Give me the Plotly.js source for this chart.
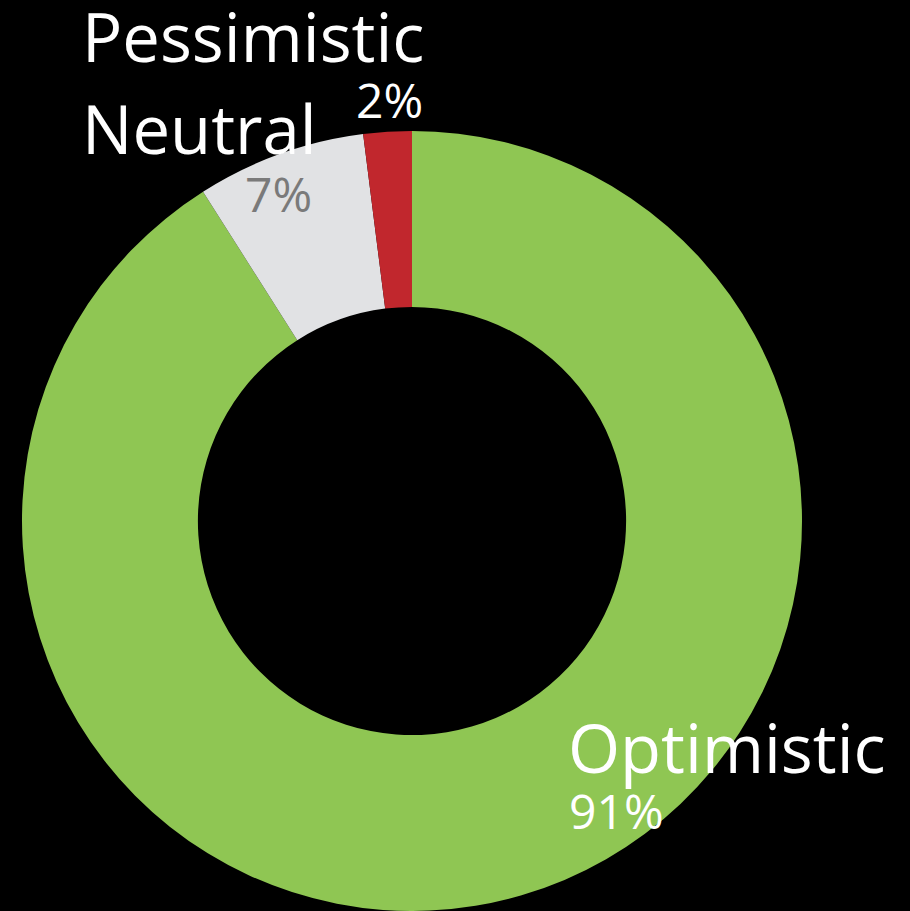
<!DOCTYPE html>
<html>
<head>
<meta charset="utf-8">
<script src="https://cdn.plot.ly/plotly-3.0.1.min.js"></script>
<style>html,body{margin:0;padding:0;background:#000;}#chart{width:910px;height:911px;}</style>
</head>
<body>
<div id="chart"></div>
<script>
// Data
const categories = ["Optimistic", "Neutral", "Pessimistic"];
const values = [91, 7, 2];
const percentLabels = ["91%", "7%", "2%"];
const sliceColors = ["#8FC653", "#E1E2E4", "#C1272D"];

// Label placement (pixel positions of label text, left edge & vertical centre)
const nameLabelPos = [[566, 747], [80, 128], [80, 36]];
const pctLabelPos = [[567, 810], [243, 194], [354, 99]];
const pctColors = ["#FFFFFF", "#7A7A7A", "#FFFFFF"];

const W = 910, H = 911;
const FONT = "Open Sans, sans-serif";

const annotations = [];
categories.forEach((c, i) => {
  annotations.push({
    text: c, xref: "paper", yref: "paper",
    x: nameLabelPos[i][0] / W, y: 1 - nameLabelPos[i][1] / H,
    xanchor: "left", yanchor: "middle", showarrow: false,
    font: {family: FONT, size: 67, color: "#FFFFFF"}
  });
  annotations.push({
    text: percentLabels[i], xref: "paper", yref: "paper",
    x: pctLabelPos[i][0] / W, y: 1 - pctLabelPos[i][1] / H,
    xanchor: "left", yanchor: "middle", showarrow: false,
    font: {family: FONT, size: 48, color: pctColors[i]}
  });
});

const trace = {
  type: "pie",
  labels: categories,
  values: values,
  marker: {colors: sliceColors, line: {width: 0}},
  hole: 0.549,
  sort: false,
  direction: "clockwise",
  rotation: 0,
  textinfo: "none",
  hoverinfo: "none",
  showlegend: false,
  domain: {x: [22 / W, 802 / W], y: [0, 780 / H]}
};

const layout = {
  width: W, height: H,
  margin: {l: 0, r: 0, t: 0, b: 0},
  paper_bgcolor: "#000000",
  plot_bgcolor: "#000000",
  showlegend: false,
  annotations: annotations
};

Plotly.newPlot("chart", [trace], layout, {displayModeBar: false, staticPlot: true});
</script>
</body>
</html>
